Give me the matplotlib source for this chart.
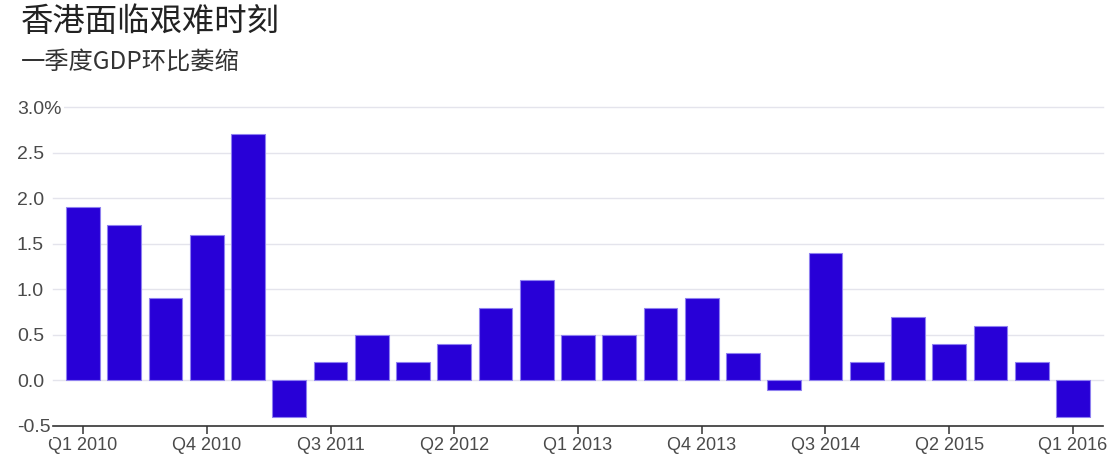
import matplotlib
matplotlib.use("Agg")
import matplotlib.pyplot as plt
import numpy as np

title = "香港面临艰难时刻"
subtitle = "一季度GDP环比萎缩"
quarters = ["Q1 2010", "Q2 2010", "Q3 2010", "Q4 2010",
            "Q1 2011", "Q2 2011", "Q3 2011", "Q4 2011",
            "Q1 2012", "Q2 2012", "Q3 2012", "Q4 2012",
            "Q1 2013", "Q2 2013", "Q3 2013", "Q4 2013",
            "Q1 2014", "Q2 2014", "Q3 2014", "Q4 2014",
            "Q1 2015", "Q2 2015", "Q3 2015", "Q4 2015",
            "Q1 2016"]
gdp_qoq = [1.9, 1.7, 0.9, 1.6, 2.7, -0.4, 0.2, 0.5, 0.2, 0.4, 0.8, 1.1,
           0.5, 0.5, 0.8, 0.9, 0.3, -0.1, 1.4, 0.2, 0.7, 0.4, 0.6, 0.2, -0.4]
y_ticks = [-0.5, 0.0, 0.5, 1.0, 1.5, 2.0, 2.5, 3.0]
y_labels = ["-0.5", "0.0", "0.5", "1.0", "1.5", "2.0", "2.5", "3.0%"]

plt.rcParams['font.family'] = ['Liberation Sans', 'Noto Sans CJK SC', 'DejaVu Sans']

W, H = 1117, 467
fig = plt.figure(figsize=(W / 100, H / 100), dpi=100)
ax = fig.add_axes([53 / W, (H - 426) / H, (1103 - 53) / W, (426 - 107) / H])

x = np.arange(len(quarters))
ax.bar(x, gdp_qoq, width=0.82, color="#2800d7", edgecolor="#8f80f0",
       linewidth=0.8, zorder=3)

ax.set_xlim(-0.73, len(quarters) - 1 + 0.73)
ax.set_ylim(-0.5, 3.0)

for yv in y_ticks[1:]:
    ax.axhline(yv, color="#e4e4ec", linewidth=1.0, zorder=1, clip_on=False)

for s in ["top", "right", "left"]:
    ax.spines[s].set_visible(False)
ax.spines["bottom"].set_color("#333333")
ax.spines["bottom"].set_linewidth(1.2)

tick_idx = list(range(0, len(quarters), 3))
ax.set_xticks(tick_idx)
ax.set_xticklabels([quarters[i] for i in tick_idx], fontsize=13, color="#4a4a4a")
ax.tick_params(axis="x", length=6, width=1.1, color="#333333", pad=2)

ax.set_yticks(y_ticks)
ax.set_yticklabels(y_labels, fontsize=14, color="#4a4a4a", ha="left")
ax.tick_params(axis="y", length=0, pad=36 * 0.72)
for lbl in ax.get_yticklabels():
    lbl.set_bbox(dict(facecolor="white", edgecolor="none", pad=1.5))
    lbl.set_zorder(5)

fig.text(21 / W, 1 - 22 / H, title, fontsize=23.3, color="#222222",
         family=['Noto Sans CJK SC', 'DejaVu Sans'], weight="light",
         va="center", ha="left")
fig.text(21 / W, 1 - 62 / H, subtitle, fontsize=17.5, color="#333333",
         family=['Noto Sans CJK SC', 'DejaVu Sans'], weight="light",
         va="center", ha="left")

fig.savefig("out.png", dpi=100)
